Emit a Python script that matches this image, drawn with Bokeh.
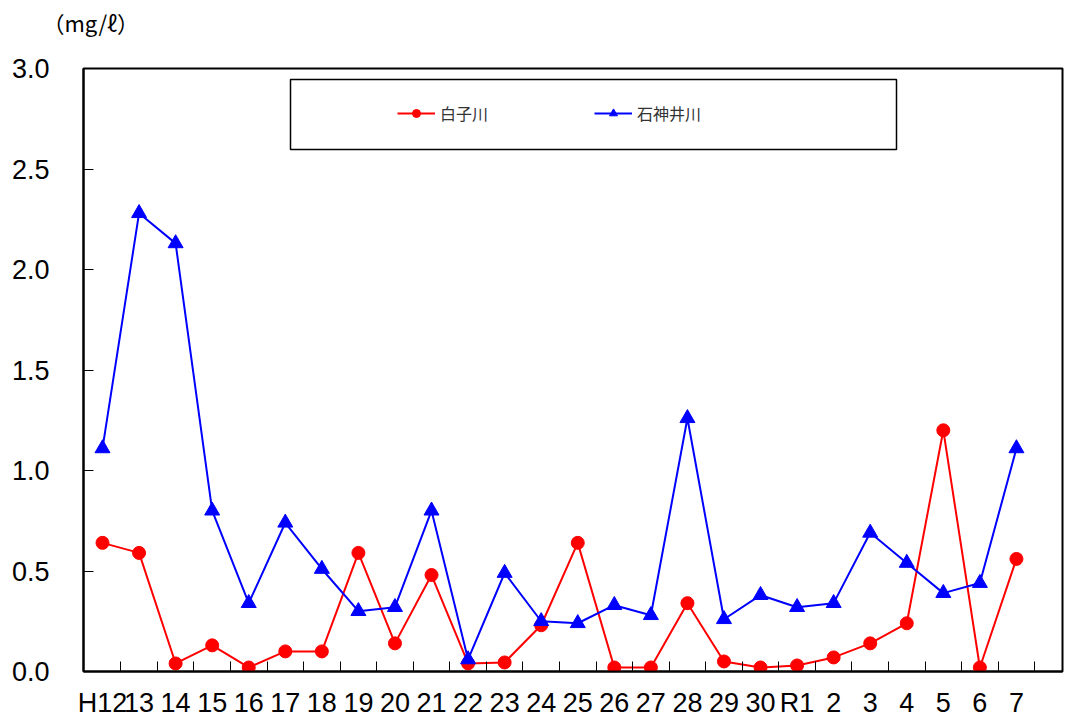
from bokeh.plotting import figure
from bokeh.models import FixedTicker, Range1d, BoxAnnotation, Legend, LegendItem, Title
from bokeh.embed import file_html
from bokeh.resources import INLINE

categories = ["H12", "13", "14", "15", "16", "17", "18", "19", "20", "21", "22", "23", "24",
              "25", "26", "27", "28", "29", "30", "R1", "2", "3", "4", "5", "6", "7"]
shirako = [0.64, 0.59, 0.04, 0.13, 0.02, 0.10, 0.10, 0.59, 0.14, 0.48, 0.04, 0.045, 0.23,
           0.64, 0.02, 0.02, 0.34, 0.05, 0.02, 0.03, 0.07, 0.14, 0.24, 1.20, 0.02, 0.56]
shakujii = [1.11, 2.28, 2.13, 0.80, 0.34, 0.74, 0.51, 0.30, 0.32, 0.80, 0.06, 0.49, 0.25,
            0.24, 0.33, 0.28, 1.26, 0.26, 0.38, 0.32, 0.34, 0.69, 0.54, 0.39, 0.44, 1.11]
y_ticks = [0.0, 0.5, 1.0, 1.5, 2.0, 2.5, 3.0]
unit_label = "（mg/ℓ）"
series_names = ["白子川", "石神井川"]

FONT = "Noto Sans CJK JP"
NUM_FONT = "Liberation Sans"
xs = list(range(len(categories)))

p = figure(width=1064, height=721, output_backend="svg", toolbar_location=None,
           x_range=Range1d(-0.52, 26.26), y_range=Range1d(0, 3.0),
           min_border_left=83, min_border_right=2, min_border_top=68, min_border_bottom=50)
p.xgrid.visible = False
p.ygrid.visible = False
p.outline_line_color = "black"
p.outline_line_width = 2
p.background_fill_color = "white"

# x axis
xa = p.xaxis[0]
xa.ticker = FixedTicker(ticks=xs, minor_ticks=[i + 0.5 for i in xs])
xa.major_label_overrides = {i: c for i, c in zip(xs, categories)}
xa.major_tick_line_color = None
xa.minor_tick_line_color = "black"
xa.minor_tick_in = 10
xa.minor_tick_out = 0
xa.axis_line_width = 2
xa.axis_line_color = "black"
xa.major_label_text_font = NUM_FONT
xa.major_label_text_font_size = "27px"
xa.major_label_text_color = "black"
xa.major_label_standoff = 10

# y axis
ya = p.yaxis[0]
ya.ticker = FixedTicker(ticks=y_ticks, minor_ticks=[])
ya.major_label_overrides = {t: f"{t:.1f}" for t in y_ticks}
ya.major_tick_in = 10
ya.major_tick_out = 0
ya.major_tick_line_color = "black"
ya.minor_tick_line_color = None
ya.axis_line_width = 2
ya.axis_line_color = "black"
ya.major_label_text_font = NUM_FONT
ya.major_label_text_font_size = "27px"
ya.major_label_text_color = "black"
ya.major_label_standoff = 34

r1l = p.line(xs, shirako, line_color="red", line_width=2)
r1m = p.scatter(xs, shirako, marker="circle", size=13, fill_color="red", line_color="red")
r2l = p.line(xs, shakujii, line_color="blue", line_width=2)
r2m = p.scatter(xs, shakujii, marker="triangle", size=15, fill_color="blue", line_color="blue")

box = BoxAnnotation(left=207, right=813, top=592, bottom=522,
                    left_units="screen", right_units="screen", top_units="screen", bottom_units="screen",
                    fill_color="white", fill_alpha=1.0, line_color="black", line_alpha=1.0,
                    line_width=1.5)
p.add_layout(box)

legend = Legend(items=[LegendItem(label=series_names[0], renderers=[r1l, r1m]),
                       LegendItem(label=series_names[1], renderers=[r2l, r2m])],
                orientation="horizontal", location=(314, 546), padding=0, margin=0,
                border_line_color=None, background_fill_alpha=0,
                glyph_width=38, glyph_height=20, label_width=152, spacing=2,
                label_standoff=5, label_text_font=FONT, label_text_font_size="16px",
                label_text_color="#333333")
p.add_layout(legend, "center")

# spacer between the frame and the unit label
p.add_layout(Title(text=" ", text_font=FONT, text_font_size="20px", standoff=0), "above")
p.add_layout(Title(text=unit_label, text_font=FONT, text_font_size="22px",
                   text_font_style="normal", text_color="black", align="left",
                   vertical_align="bottom", offset=-41, standoff=0), "above")

open("out.html", "w").write(file_html(p, INLINE))
